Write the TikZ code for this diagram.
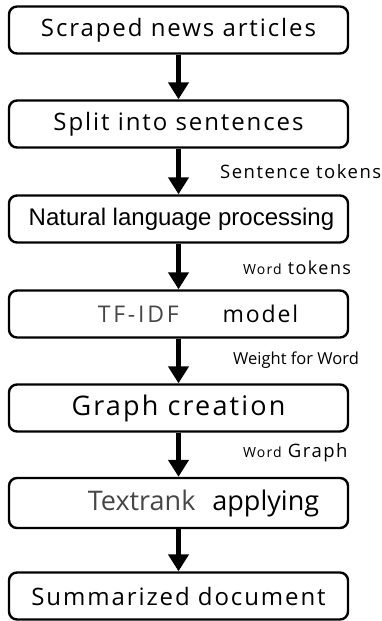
\documentclass[tikz,border=0pt]{standalone}
\usepackage{fontspec}
\setmainfont{Open Sans}
\newfontfamily\widefont[LetterSpace=8]{Open Sans}
\newfontfamily\widerfont[LetterSpace=12]{Open Sans}
\newfontfamily\narrowfont{Liberation Sans}
\usetikzlibrary{arrows.meta,positioning}
\definecolor{darkgrey}{RGB}{70,70,70}
\tikzset{
    stage/.style={draw=black, line width=2.4pt, rounded corners=8pt,
        minimum width=339pt, minimum height=47pt, inner sep=0pt,
        font=\widefont\fontsize{24}{28}\selectfont},
    flow/.style={draw=black, line width=5.5pt,
        -{Triangle[width=20pt,length=17pt]}},
    tag/.style={anchor=west, inner sep=0pt, font=\widefont\fontsize{18.5}{21}\selectfont}
}

\begin{document}
\begin{tikzpicture}[x=1pt,y=-1pt]
\useasboundingbox (0,0) rectangle (381,621);
% the processing stages
\node[stage] (scraped) at (178.5,30) {Scraped news articles};
\node[stage] (split) at (178.5,124) {Split into sentences};
\node[stage, font=\narrowfont\fontsize{24}{28}\selectfont] (nlp) at (178.5,219) {\hspace*{6pt}Natural language processing};
\node[stage] (tfidf) at (178.5,314) {\hspace*{39pt}{\widerfont\fontsize{23}{27}\selectfont\textcolor{darkgrey}{TF-IDF}}\hspace{44pt}{\fontsize{23}{27}\selectfont model}};
\node[stage, font=\widefont\fontsize{27}{31}\selectfont] (graph) at (178.5,408) {Graph creation};
\node[stage, font=\fontsize{27}{31}\selectfont, minimum height=50pt] (textrank) at (178.5,503) {\hspace*{50pt}\textcolor{darkgrey}{Textrank}\hspace{10pt} applying};
\node[stage] (summary) at (178.5,596) {Summarized document};

% arrows between stages
\draw[flow] (scraped) -- (split);
\draw[flow] (split) -- (nlp);
\draw[flow] (nlp) -- (tfidf);
\draw[flow] (tfidf) -- (graph);
\draw[flow] (graph) -- (textrank);
\draw[flow] (textrank) -- (summary);

% what flows along the arrows
\node[tag] (senttok) at (220,172) {Sentence tokens};
\node[tag, font=\widefont\fontsize{18}{21}\selectfont] (wordtok) at (243,268) {{\fontsize{14}{16}\selectfont Word} tokens};
\node[tag, font=\fontsize{16.5}{19}\selectfont] (weight) at (233,360) {Weight for Word};
\node[tag] (wordgraph) at (243,453) {{\fontsize{14}{16}\selectfont Word} Graph};
\end{tikzpicture}
\end{document}
